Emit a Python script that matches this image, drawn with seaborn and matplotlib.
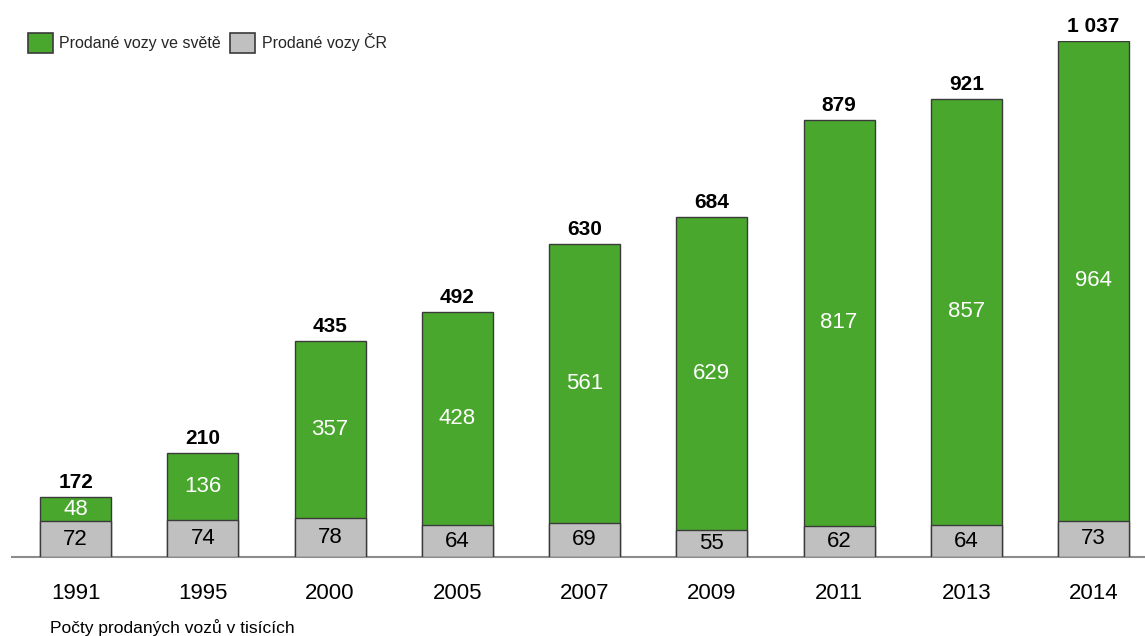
import matplotlib
matplotlib.use("Agg")
import matplotlib.pyplot as plt
import seaborn as sns
import pandas as pd
from matplotlib.patches import Patch

years = ["1991", "1995", "2000", "2005", "2007", "2009", "2011", "2013", "2014"]
world_sales = [48, 136, 357, 428, 561, 629, 817, 857, 964]
cr_sales = [72, 74, 78, 64, 69, 55, 62, 64, 73]
total_labels = [172, 210, 435, 492, 630, 684, 879, 921, 1037]

GREEN = "#4aa72e"
GREY = "#c0c0c0"
EDGE = "#3a3a3a"

sns.set_theme(style="white")
plt.rcParams["font.family"] = ["Liberation Sans", "DejaVu Sans"]

df = pd.DataFrame({
    "rok": years,
    "svet": world_sales,
    "cr": cr_sales,
})
df["celkem"] = df["svet"] + df["cr"]

fig = plt.figure(figsize=(11.45, 6.36), dpi=100)
ax = fig.add_axes([12 / 1145, 79 / 636, 1145.25 / 1145, 516 / 636])

sns.barplot(data=df, x="rok", y="celkem", color=GREEN, saturation=1,
            width=0.558, edgecolor=EDGE, linewidth=1.0, ax=ax)
sns.barplot(data=df, x="rok", y="cr", color=GREY, saturation=1,
            width=0.558, edgecolor=EDGE, linewidth=1.0, ax=ax)

ax.set_xlim(-0.5, 8.5)
ax.set_ylim(0, 1037)
ax.set_xlabel("")
ax.set_ylabel("")
ax.set_yticks([])
ax.tick_params(axis="x", length=0, pad=19, labelsize=16, colors="black")
for s in ["top", "right", "left"]:
    ax.spines[s].set_visible(False)
ax.spines["bottom"].set_color("#8c8c8c")
ax.spines["bottom"].set_linewidth(1.5)
ax.spines["bottom"].set_zorder(0)

for i, (w, c, t) in enumerate(zip(world_sales, cr_sales, total_labels)):
    top = w + c
    ax.text(i, c / 2, f"{c}", ha="center", va="center", fontsize=16,
            color="black")
    ax.text(i, c + w / 2, f"{w}", ha="center", va="center", fontsize=16,
            color="white")
    ax.text(i, top + 10, f"{t:,}".replace(",", " "), ha="center",
            va="bottom", fontsize=15, fontweight="bold", color="black",
            clip_on=False)

handles = [Patch(facecolor=GREEN, edgecolor=EDGE, linewidth=1.2,
                 label="Prodané vozy ve světě"),
           Patch(facecolor=GREY, edgecolor=EDGE, linewidth=1.2,
                 label="Prodané vozy ČR")]
fig.legend(handles=handles, loc="center left", bbox_to_anchor=(28 / 1145, 1 - 43 / 636),
           ncol=2, frameon=False, fontsize=11.5, handlelength=1.55,
           handleheight=1.5, handletextpad=0.4, columnspacing=0.6,
           borderaxespad=0, borderpad=0)

fig.text(50 / 1145, 1 - 628 / 636, "Počty prodaných vozů v tisících",
         fontsize=12.5, va="center", ha="left", color="black")

fig.savefig("out.png", dpi=100)
